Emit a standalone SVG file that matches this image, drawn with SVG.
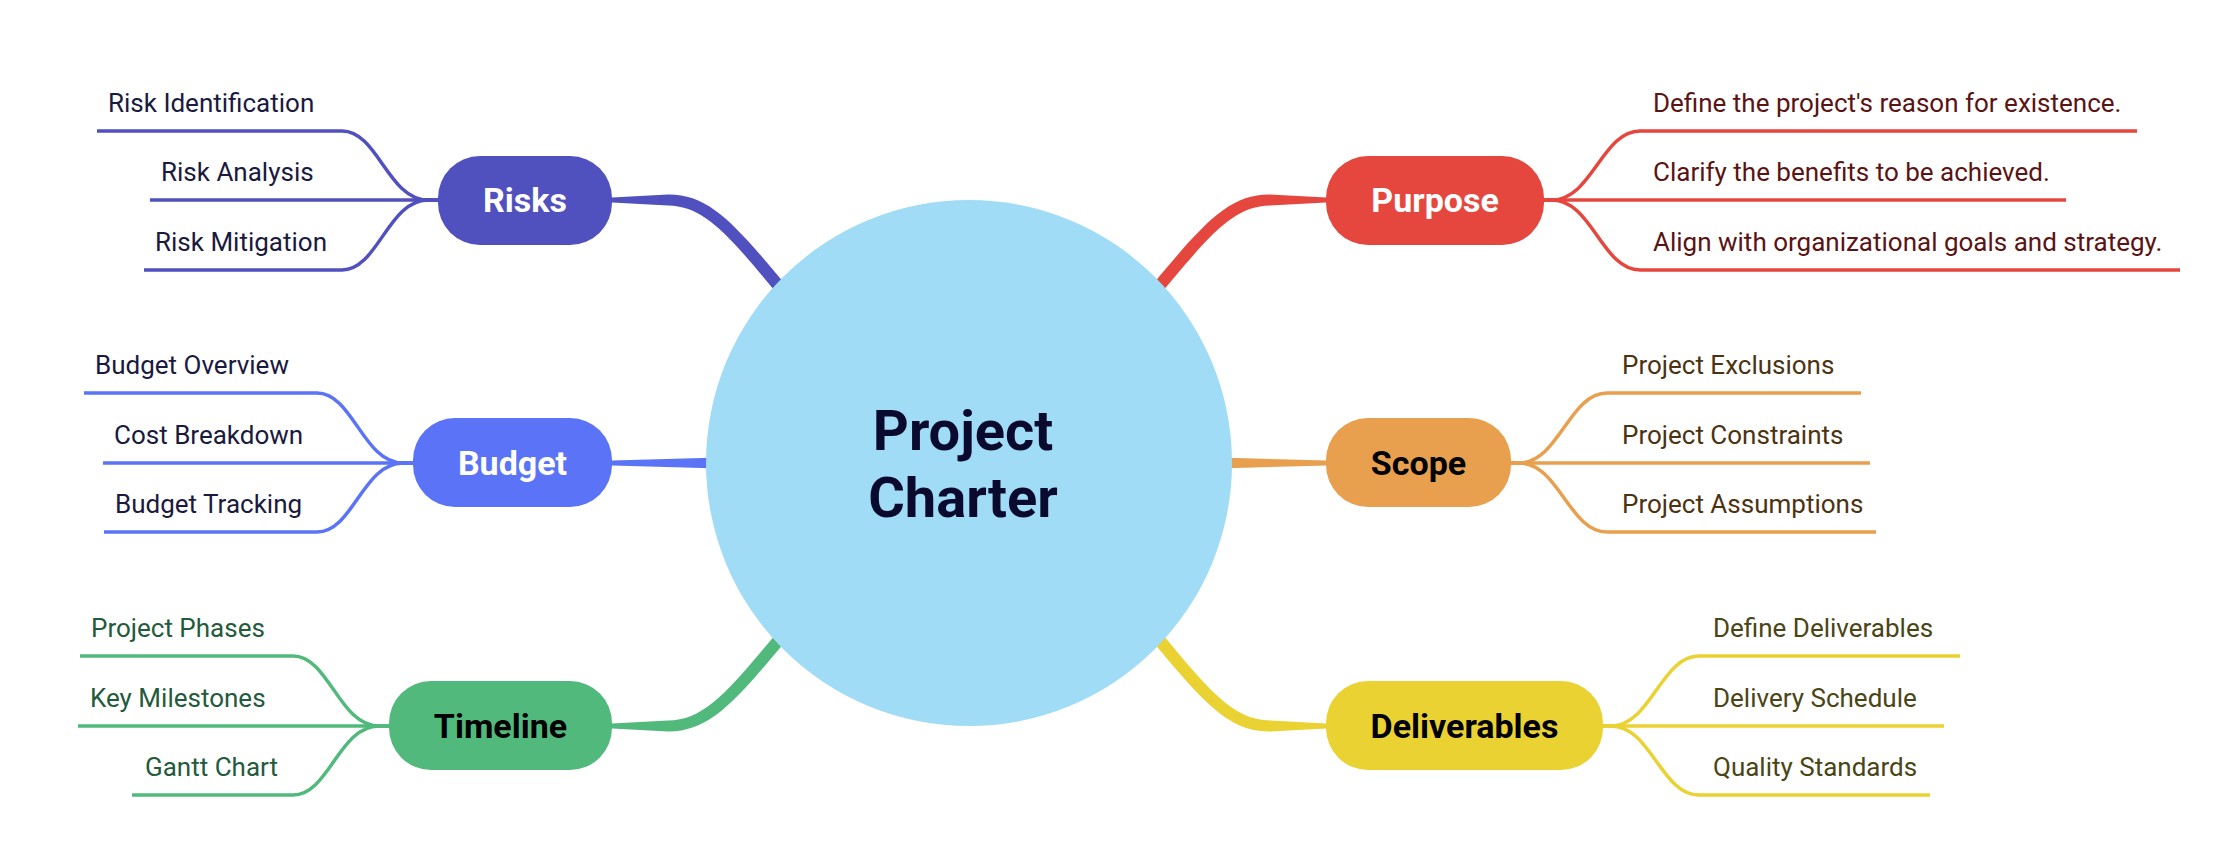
<svg xmlns="http://www.w3.org/2000/svg" width="2234" height="868" viewBox="0 0 2234 868">
<style>
.lbl{font-family:Roboto,"Liberation Sans",sans-serif;font-size:34px;font-weight:700;text-anchor:middle}
.sub{font-family:Roboto,"Liberation Sans",sans-serif;font-size:26px;font-weight:400}
.ln{fill:none;stroke-width:3.5;stroke-linecap:butt;stroke-linejoin:round}
.risk{stroke:#5150bf}.bud{stroke:#5b73f6}.tim{stroke:#52b97d}.pur{stroke:#e5473f}.sco{stroke:#e8a04f}.del{stroke:#ead232}
</style>
<rect width="2234" height="868" fill="#ffffff"/>
<g id="connectors">
  <path d="M612 197.5 L668 194.5 C712 194 738 228 795 296 L785 303 C730 237 706 206 668 205.5 L612 202.5 Z" fill="#5150bf"/>
  <path d="M1326 197.5 L1270 194.5 C1226 194 1200 228 1143 296 L1153 303 C1208 237 1232 206 1270 205.5 L1326 202.5 Z" fill="#e5473f"/>
  <path d="M612 728.5 L668 731.5 C712 732 738 698 795 630 L785 623 C730 689 706 720 668 720.5 L612 723.5 Z" fill="#52b97d"/>
  <path d="M1326 728.5 L1270 731.5 C1226 732 1200 698 1143 630 L1153 623 C1208 689 1232 720 1270 720.5 L1326 723.5 Z" fill="#ead232"/>
  <path d="M612 460.5 L720 457.5 L720 468.5 L612 465.5 Z" fill="#5b73f6"/>
  <path d="M1326 460.5 L1218 457.5 L1218 468.5 L1326 465.5 Z" fill="#e8a04f"/>

  <path class="ln risk" d="M438 200 H428 C388 200 378 131 342 131 H97"/>
  <path class="ln risk" d="M438 200 H150"/>
  <path class="ln risk" d="M438 200 H428 C388 200 378 270 342 270 H144"/>

  <path class="ln bud" d="M413 463 H403 C363 463 353 393 317 393 H84"/>
  <path class="ln bud" d="M413 463 H103"/>
  <path class="ln bud" d="M413 463 H403 C363 463 353 532 317 532 H104"/>

  <path class="ln tim" d="M389 726 H379 C339 726 329 656 293 656 H80"/>
  <path class="ln tim" d="M389 726 H78"/>
  <path class="ln tim" d="M389 726 H379 C339 726 329 795 293 795 H132"/>

  <path class="ln pur" d="M1544 200 H1552 C1592 200 1602 131 1640 131 H2137"/>
  <path class="ln pur" d="M1544 200 H2066"/>
  <path class="ln pur" d="M1544 200 H1552 C1592 200 1602 270 1640 270 H2180"/>

  <path class="ln sco" d="M1511 463 H1519 C1559 463 1569 393 1607 393 H1861"/>
  <path class="ln sco" d="M1511 463 H1870"/>
  <path class="ln sco" d="M1511 463 H1519 C1559 463 1569 532 1607 532 H1876"/>

  <path class="ln del" d="M1603 726 H1611 C1651 726 1661 656 1699 656 H1960"/>
  <path class="ln del" d="M1603 726 H1944"/>
  <path class="ln del" d="M1603 726 H1611 C1651 726 1661 795 1699 795 H1930"/>
</g>
<g id="center">
  <circle cx="969" cy="463" r="263" fill="#a0dcf6"/>
  <text x="963" y="450" font-family="Roboto,'Liberation Sans',sans-serif" font-size="56" font-weight="700" fill="#0a0a2e" text-anchor="middle">Project</text>
  <text x="963" y="517" font-family="Roboto,'Liberation Sans',sans-serif" font-size="56" font-weight="700" fill="#0a0a2e" text-anchor="middle">Charter</text>
</g>
<g id="risks"><rect x="438" y="156" width="174" height="89" rx="42" fill="#5150bf"/><text class="lbl" x="525" y="212" fill="#ffffff">Risks</text></g>
<g id="budget"><rect x="413" y="418" width="199" height="89" rx="42" fill="#5b73f6"/><text class="lbl" x="512.5" y="475" fill="#ffffff">Budget</text></g>
<g id="timeline"><rect x="389" y="681" width="223" height="89" rx="42" fill="#52b97d"/><text class="lbl" x="500.5" y="738" fill="#000000">Timeline</text></g>
<g id="purpose"><rect x="1326" y="156" width="218" height="89" rx="42" fill="#e5473f"/><text class="lbl" x="1435" y="212" fill="#ffffff">Purpose</text></g>
<g id="scope"><rect x="1326" y="418" width="185" height="89" rx="42" fill="#e8a04f"/><text class="lbl" x="1418.5" y="475" fill="#000000">Scope</text></g>
<g id="deliverables"><rect x="1326" y="681" width="277" height="89" rx="42" fill="#ead232"/><text class="lbl" x="1464.5" y="738" fill="#000000">Deliverables</text></g>

<g id="risk-identification"><text class="sub" x="108" y="112" fill="#1a1a40">Risk Identification</text></g>
<g id="risk-analysis"><text class="sub" x="161" y="181" fill="#1a1a40">Risk Analysis</text></g>
<g id="risk-mitigation"><text class="sub" x="155" y="251" fill="#1a1a40">Risk Mitigation</text></g>

<g id="budget-overview"><text class="sub" x="95" y="374" fill="#1a1a40">Budget Overview</text></g>
<g id="cost-breakdown"><text class="sub" x="114" y="444" fill="#1a1a40">Cost Breakdown</text></g>
<g id="budget-tracking"><text class="sub" x="115" y="513" fill="#1a1a40">Budget Tracking</text></g>

<g id="project-phases"><text class="sub" x="91" y="637" fill="#245a3c">Project Phases</text></g>
<g id="key-milestones"><text class="sub" x="90" y="707" fill="#245a3c">Key Milestones</text></g>
<g id="gantt-chart"><text class="sub" x="145" y="776" fill="#245a3c">Gantt Chart</text></g>

<g id="purpose-1"><text class="sub" x="1653" y="112" fill="#5a1414">Define the project's reason for existence.</text></g>
<g id="purpose-2"><text class="sub" x="1653" y="181" fill="#5a1414">Clarify the benefits to be achieved.</text></g>
<g id="purpose-3"><text class="sub" x="1653" y="251" fill="#5a1414">Align with organizational goals and strategy.</text></g>

<g id="project-exclusions"><text class="sub" x="1622" y="374" fill="#4b3312">Project Exclusions</text></g>
<g id="project-constraints"><text class="sub" x="1622" y="444" fill="#4b3312">Project Constraints</text></g>
<g id="project-assumptions"><text class="sub" x="1622" y="513" fill="#4b3312">Project Assumptions</text></g>

<g id="define-deliverables"><text class="sub" x="1713" y="637" fill="#4a4514">Define Deliverables</text></g>
<g id="delivery-schedule"><text class="sub" x="1713" y="707" fill="#4a4514">Delivery Schedule</text></g>
<g id="quality-standards"><text class="sub" x="1713" y="776" fill="#4a4514">Quality Standards</text></g>
</svg>
